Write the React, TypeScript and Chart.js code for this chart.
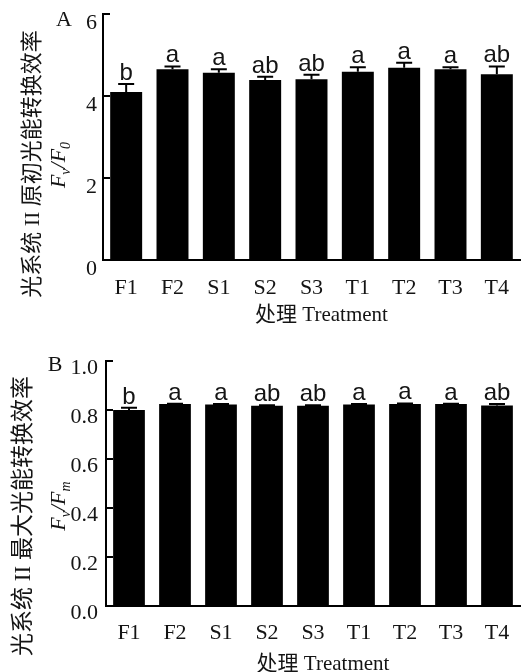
import React, { useEffect, useRef } from "react";
import { Chart, registerables } from "chart.js";

Chart.register(...registerables);

// ---------- data ----------
const categories = ["F1", "F2", "S1", "S2", "S3", "T1", "T2", "T3", "T4"];

const fvF0Values = [4.1, 4.65, 4.57, 4.39, 4.41, 4.59, 4.69, 4.65, 4.53];
const fvF0Errors = [0.19, 0.07, 0.08, 0.08, 0.11, 0.11, 0.12, 0.05, 0.19];
const fvF0Letters = ["b", "a", "a", "ab", "ab", "a", "a", "a", "ab"];

const fvFmValues = [0.8, 0.824, 0.822, 0.817, 0.817, 0.822, 0.825, 0.824, 0.818];
const fvFmErrors = [0.009, 0.002, 0.002, 0.002, 0.002, 0.002, 0.002, 0.002, 0.006];
const fvFmLetters = ["b", "a", "a", "ab", "ab", "a", "a", "a", "ab"];

const yMaxA = 6;
const yStepA = 2;
const yMaxB = 1.0;
const yStepB = 0.2;

const xTitle = "处理 Treatment";
const yTitleA = "光系统 II 原初光能转换效率";
const yTitleB = "光系统 II 最大光能转换效率";

const SERIF = "'Liberation Serif', 'Times New Roman', 'Noto Sans CJK SC', serif";
const SANS = "'Liberation Sans', Arial, sans-serif";
const INK = "#141414";

type PanelCfg = {
  panel: string;
  values: number[];
  errors: number[];
  letters: string[];
  yMax: number;
  yStep: number;
  decimals: number;
  yTitle: string;
  yTitleSize: number;
  sub1: string;
  sub2: string;
  padTop: number;
  axisWidth: number;
  xAxisHeight: number;
  xTickPad: number;
  tickPad: number;
  labelOffset: number;
  panelPos: [number, number];
  yTitleX: number;
  yTitleY: number;
  fracX: number;
  fracY: number;
  xTitleDy: number;
};

function drawFraction(ctx: CanvasRenderingContext2D, cx: number, cy: number, sub1: string, sub2: string) {
  const big = `italic 22px ${SERIF}`;
  const small = `italic 14px ${SERIF}`;
  const parts: [string, string, number][] = [
    ["F", big, 0],
    [sub1, small, 5],
    ["/F", big, 0],
    [sub2, small, 5],
  ];
  ctx.save();
  ctx.translate(cx, cy);
  ctx.rotate(-Math.PI / 2);
  ctx.fillStyle = INK;
  ctx.textBaseline = "alphabetic";
  ctx.textAlign = "left";
  let total = 0;
  const widths = parts.map(([t, f]) => {
    ctx.font = f;
    const w = ctx.measureText(t).width;
    total += w;
    return w;
  });
  let x = -total / 2;
  parts.forEach(([t, f, dy], i) => {
    ctx.font = f;
    ctx.fillText(t, x, 7 + dy);
    x += widths[i];
  });
  ctx.restore();
}

function makePlugin(cfg: PanelCfg) {
  return {
    id: "custom" + cfg.panel,
    beforeDatasetsDraw(chart: any) {
      const ctx: CanvasRenderingContext2D = chart.ctx;
      const y = chart.scales.y;
      const left = chart.chartArea.left;
      ctx.save();
      ctx.strokeStyle = "#000";
      ctx.lineWidth = 2;
      y.ticks.forEach((t: any) => {
        const py = Math.round(y.getPixelForValue(t.value));
        ctx.beginPath();
        ctx.moveTo(left, py);
        ctx.lineTo(left + 7, py);
        ctx.stroke();
      });
      ctx.restore();
    },
    afterDatasetsDraw(chart: any) {
      const ctx: CanvasRenderingContext2D = chart.ctx;
      const yScale = chart.scales.y;
      const meta = chart.getDatasetMeta(0);
      ctx.save();
      ctx.strokeStyle = "#000";
      ctx.lineWidth = 2;
      meta.data.forEach((el: any, i: number) => {
        const top = yScale.getPixelForValue(cfg.values[i] + cfg.errors[i]);
        const x = el.x;
        ctx.beginPath();
        ctx.moveTo(x, el.y);
        ctx.lineTo(x, top);
        ctx.moveTo(x - 8, top);
        ctx.lineTo(x + 8, top);
        ctx.stroke();
        ctx.fillStyle = INK;
        ctx.font = `24px ${SANS}`;
        ctx.textAlign = "center";
        ctx.textBaseline = "alphabetic";
        ctx.fillText(cfg.letters[i], x, top - 4);
      });
      // panel letter
      ctx.fillStyle = INK;
      ctx.font = `22px ${SERIF}`;
      ctx.textAlign = "center";
      ctx.textBaseline = "middle";
      ctx.fillText(cfg.panel, cfg.panelPos[0], cfg.panelPos[1]);
      // y title (Chinese)
      ctx.save();
      ctx.translate(cfg.yTitleX, cfg.yTitleY);
      ctx.rotate(-Math.PI / 2);
      ctx.font = `${cfg.yTitleSize}px ${SERIF}`;
      ctx.textAlign = "center";
      ctx.textBaseline = "middle";
      ctx.fillText(cfg.yTitle, 0, 0);
      ctx.restore();
      drawFraction(ctx, cfg.fracX, cfg.fracY, cfg.sub1, cfg.sub2);
      // x title
      const ca = chart.chartArea;
      ctx.font = `21px ${SERIF}`;
      ctx.textAlign = "center";
      ctx.textBaseline = "alphabetic";
      ctx.fillText(xTitle, (ca.left + ca.right) / 2 + 10, ca.bottom + cfg.xTitleDy);
      ctx.restore();
    },
  };
}

function PanelChart({ cfg, top }: { cfg: PanelCfg; top: number }) {
  const ref = useRef<HTMLCanvasElement | null>(null);
  useEffect(() => {
    if (!ref.current) return;
    const chart = new Chart(ref.current, {
      type: "bar",
      data: {
        labels: categories,
        datasets: [
          {
            data: cfg.values,
            backgroundColor: "#000",
            borderWidth: 0,
            barPercentage: 0.69,
            categoryPercentage: 1,
          },
        ],
      },
      options: {
        responsive: false,
        animation: false,
        layout: { padding: { top: cfg.padTop, right: 1, left: 0, bottom: 0 } },
        plugins: {
          legend: { display: false },
          tooltip: { enabled: false },
          title: { display: false },
        },
        scales: {
          x: {
            type: "category",
            offset: true,
            grid: { display: false, drawTicks: false },
            border: { display: true, color: "#000", width: 2 },
            ticks: {
              color: INK,
              font: { family: SERIF, size: 22 },
              padding: cfg.xTickPad,
              maxRotation: 0,
              autoSkip: false,
            },
            afterFit: (s: any) => {
              s.height = cfg.xAxisHeight;
              s.paddingLeft = 0;
              s.paddingRight = 0;
            },
          },
          y: {
            min: 0,
            max: cfg.yMax,
            grid: { display: false, drawTicks: false },
            border: { display: true, color: "#000", width: 2 },
            ticks: {
              stepSize: cfg.yStep,
              padding: cfg.tickPad,
              labelOffset: cfg.labelOffset,
              color: INK,
              font: { family: SERIF, size: 22 },
              callback: (v: any) => Number(v).toFixed(cfg.decimals),
            },
            afterFit: (s: any) => {
              s.width = cfg.axisWidth;
              s.paddingTop = 0;
              s.paddingBottom = 0;
            },
          },
        },
      } as any,
      plugins: [makePlugin(cfg)],
    });
    return () => chart.destroy();
  }, [cfg]);
  return (
    <canvas
      ref={ref}
      width={521}
      height={336}
      style={{ position: "absolute", left: 0, top, width: 521, height: 336 }}
    />
  );
}

const cfgA: PanelCfg = {
  panel: "A",
  values: fvF0Values,
  errors: fvF0Errors,
  letters: fvF0Letters,
  yMax: yMaxA,
  yStep: yStepA,
  decimals: 0,
  yTitle: yTitleA,
  yTitleSize: 22,
  sub1: "v",
  sub2: "0",
  padTop: 14,
  axisWidth: 103,
  xAxisHeight: 76,
  xTickPad: 15,
  tickPad: 6,
  labelOffset: 9,
  panelPos: [64, 20],
  yTitleX: 33,
  yTitleY: 164,
  fracX: 58,
  fracY: 165,
  xTitleDy: 61,
};

const cfgB: PanelCfg = {
  panel: "B",
  values: fvFmValues,
  errors: fvFmErrors,
  letters: fvFmLetters,
  yMax: yMaxB,
  yStep: yStepB,
  decimals: 1,
  yTitle: yTitleB,
  yTitleSize: 23,
  sub1: "v",
  sub2: "m",
  padTop: 25,
  axisWidth: 106,
  xAxisHeight: 66,
  xTickPad: 14,
  tickPad: 8,
  labelOffset: 7,
  panelPos: [55, 29],
  yTitleX: 24,
  yTitleY: 180,
  fracX: 58,
  fracY: 170,
  xTitleDy: 64,
};

export default function App() {
  return (
    <div style={{ position: "absolute", left: 0, top: 0, width: 521, height: 672, background: "#fff" }}>
      <PanelChart cfg={cfgA} top={0} />
      <PanelChart cfg={cfgB} top={336} />
    </div>
  );
}
